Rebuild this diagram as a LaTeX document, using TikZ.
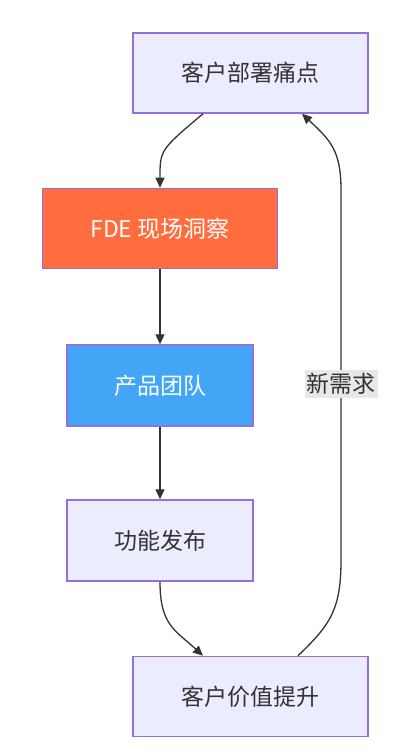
\documentclass[tikz,border=0pt]{standalone}
\usepackage{fontspec}
\newfontfamily\cjk{Noto Sans CJK SC}
\usetikzlibrary{arrows.meta}
\definecolor{boxfill}{HTML}{ECECFF}
\definecolor{boxline}{HTML}{9370DB}
\definecolor{fdeor}{HTML}{FF6D3F}
\definecolor{prodblue}{HTML}{42A5F5}
\definecolor{edgecol}{HTML}{333333}
\definecolor{lblbg}{HTML}{E8E8E8}
\tikzset{
  flowbox/.style={draw=boxline, line width=1.5pt, fill=boxfill, text=edgecol,
    font=\cjk\fontsize{23pt}{27pt}\selectfont, inner sep=0pt, anchor=center},
  wide/.style={minimum width=235pt, minimum height=80pt},
  mid/.style={minimum width=186pt, minimum height=81pt},
  conn/.style={draw=edgecol, line width=1.3pt, -{Triangle[length=10pt,width=9pt]}},
  lbl/.style={fill=lblbg, text=edgecol, font=\cjk\fontsize{23pt}{27pt}\selectfont, inner xsep=2pt, inner ysep=3pt}
}
\begin{document}
\begin{tikzpicture}[x=1pt,y=-1pt]
\useasboundingbox (0,0) rectangle (416,754);
\fill[white] (0,0) rectangle (416,754);
\node[flowbox, wide] (A) at (250.5,73) {客户部署痛点};
\node[flowbox, wide, fill=fdeor, text=white] (B) at (160,228.5) {FDE 现场洞察};
\node[flowbox, mid, fill=prodblue, text=white] (C) at (160,385.5) {产品团队};
\node[flowbox, mid] (D) at (160,540.5) {功能发布};
\node[flowbox, wide] (E) at (250.5,696.5) {客户价值提升};
\coordinate (a1) at ([xshift=-47.5pt]A.south);
\coordinate (e1) at ([xshift=-47.5pt]E.north);
\coordinate (e2) at ([xshift=47.5pt]E.north);
\coordinate (a2) at ([xshift=51.5pt]A.south);
\draw[conn] (a1) .. controls (160,150) and (160,150) .. (B.north);
\draw[conn] (B.south) -- (C.north);
\draw[conn] (C.south) -- (D.north);
\draw[conn] (D.south) .. controls (160,625) and (175,630) .. (e1);
\draw[conn] (e2) .. controls (330,625) and (341,610) .. (341,560) -- (341,190) .. controls (341,150) and (330,140) .. (a2);
\node[lbl] (L) at (341,384) {新需求};
\end{tikzpicture}
\end{document}
